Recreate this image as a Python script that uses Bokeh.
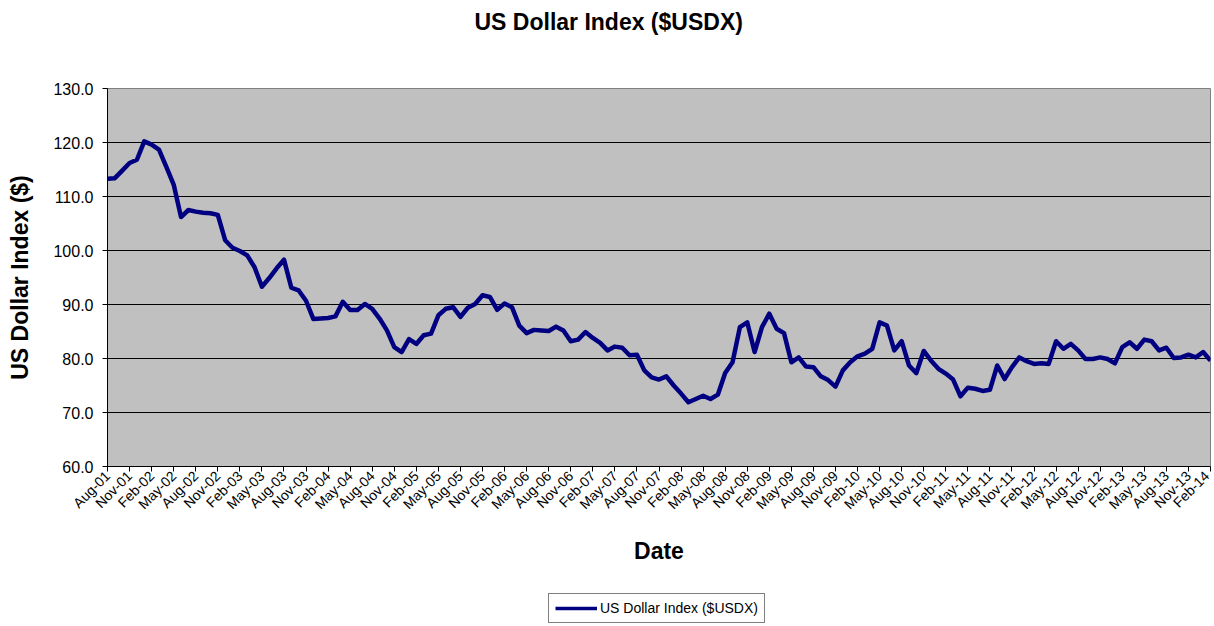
import math
from bokeh.plotting import figure
from bokeh.layouts import column
from bokeh.models import (ColumnDataSource, FixedTicker, NumeralTickFormatter,
                          Legend, LegendItem, Range1d, Title)
from bokeh.embed import file_html
from bokeh.resources import INLINE

# ---- data -------------------------------------------------------------
tick_labels = ["Aug-01", "Nov-01", "Feb-02", "May-02", "Aug-02", "Nov-02",
               "Feb-03", "May-03", "Aug-03", "Nov-03", "Feb-04", "May-04",
               "Aug-04", "Nov-04", "Feb-05", "May-05", "Aug-05", "Nov-05",
               "Feb-06", "May-06", "Aug-06", "Nov-06", "Feb-07", "May-07",
               "Aug-07", "Nov-07", "Feb-08", "May-08", "Aug-08", "Nov-08",
               "Feb-09", "May-09", "Aug-09", "Nov-09", "Feb-10", "May-10",
               "Aug-10", "Nov-10", "Feb-11", "May-11", "Aug-11", "Nov-11",
               "Feb-12", "May-12", "Aug-12", "Nov-12", "Feb-13", "May-13",
               "Aug-13", "Nov-13", "Feb-14"]

# monthly values, Aug-01 ... Feb-14
usdx = [
    113.3, 113.4, 114.8, 116.2, 116.8,                                  # 2001 Aug-Dec
    120.2, 119.6, 118.7, 115.5, 112.2, 106.2, 107.5, 107.2, 107.0, 106.9, 106.6, 101.9,  # 2002
    100.5, 99.9, 99.1, 96.9, 93.3, 94.9, 96.7, 98.3, 93.1, 92.6, 90.7, 87.3,             # 2003
    87.4, 87.5, 87.8, 90.5, 89.0, 89.0, 90.1, 89.2, 87.4, 85.2, 82.1, 81.2,              # 2004
    83.6, 82.7, 84.3, 84.6, 88.0, 89.2, 89.5, 87.7, 89.4, 90.1, 91.7, 91.4,              # 2005
    89.0, 90.2, 89.5, 86.1, 84.7, 85.3, 85.2, 85.1, 85.9, 85.2, 83.2, 83.5,              # 2006
    84.9, 83.8, 82.9, 81.5, 82.2, 82.0, 80.6, 80.7, 77.8, 76.5, 76.1, 76.7,              # 2007
    75.0, 73.5, 71.9, 72.5, 73.1, 72.5, 73.3, 77.3, 79.3, 85.8, 86.7, 81.2,              # 2008
    85.8, 88.3, 85.5, 84.7, 79.3, 80.2, 78.5, 78.4, 76.7, 76.0, 74.8, 77.8,              # 2009
    79.3, 80.4, 80.9, 81.8, 86.7, 86.1, 81.5, 83.2, 78.7, 77.3, 81.4, 79.6,              # 2010
    78.1, 77.2, 76.1, 73.0, 74.6, 74.4, 74.0, 74.2, 78.7, 76.2, 78.4, 80.2,              # 2011
    79.5, 79.0, 79.1, 79.0, 83.2, 81.8, 82.7, 81.5, 79.9, 79.9, 80.2, 79.9,              # 2012
    79.1, 82.1, 83.0, 81.8, 83.5, 83.2, 81.5, 82.0, 80.1, 80.2, 80.7, 80.2,              # 2013
    81.2, 79.6,                                                           # 2014 Jan-Feb
]
y_ticks = [60, 70, 80, 90, 100, 110, 120, 130]
series_name = "US Dollar Index ($USDX)"

# ---- figure -----------------------------------------------------------
FONT = "Liberation Sans"
LINE_COLOR = "#000080"
n = len(usdx)
months = list(range(n))
tick_pos = months[::3]

src = ColumnDataSource(data=dict(x=months, y=usdx))

p = figure(frame_width=1103, frame_height=378, output_backend="svg",
           toolbar_location=None, title_location=None,
           x_range=Range1d(0, n - 1), y_range=Range1d(60, 130),
           min_border_left=107, min_border_right=2, min_border_top=88,
           min_border_bottom=118)

p.background_fill_color = "#C0C0C0"
p.border_fill_color = "white"
p.outline_line_color = "#808080"

# title: a blank spacer next to the frame, the real title above it
spacer = Title(text=" ", text_font=FONT, text_font_size="10px", standoff=39)
p.add_layout(spacer, "above")
title = Title(text="US Dollar Index ($USDX)", align="left", vertical_align="top",
              offset=367, standoff=0, text_font=FONT, text_font_size="23px",
              text_font_style="bold", text_color="black")
p.add_layout(title, "above")

# x axis
xa = p.xaxis[0]
xa.ticker = FixedTicker(ticks=tick_pos)
xa.major_label_overrides = {pos: lab for pos, lab in zip(tick_pos, tick_labels)}
xa.major_label_orientation = math.pi / 4
xa.major_label_text_font = FONT
xa.major_label_text_font_size = "14px"
xa.major_label_text_color = "black"
xa.major_label_standoff = 2
xa.major_tick_in = 0
xa.major_tick_out = 5
xa.minor_tick_line_color = None
xa.axis_line_color = "black"
xa.major_tick_line_color = "black"
xa.axis_label = "Date"
xa.axis_label_text_font = FONT
xa.axis_label_text_font_size = "23px"
xa.axis_label_text_font_style = "bold"
xa.axis_label_text_color = "black"
xa.axis_label_standoff = 17

# y axis
ya = p.yaxis[0]
ya.ticker = FixedTicker(ticks=y_ticks)
ya.formatter = NumeralTickFormatter(format="0.0")
ya.major_label_text_font = FONT
ya.major_label_text_font_size = "16px"
ya.major_label_text_color = "black"
ya.major_label_standoff = 9
ya.major_tick_in = 0
ya.major_tick_out = 5
ya.minor_tick_line_color = None
ya.axis_line_color = "black"
ya.major_tick_line_color = "black"
ya.axis_label = "US Dollar Index ($)"
ya.axis_label_text_font = FONT
ya.axis_label_text_font_size = "23px"
ya.axis_label_text_font_style = "bold"
ya.axis_label_text_color = "black"
ya.axis_label_standoff = 17

# grid
p.xgrid.grid_line_color = None
p.ygrid.ticker = FixedTicker(ticks=y_ticks)
p.ygrid.grid_line_color = "black"
p.ygrid.grid_line_width = 1

# line
p.line("x", "y", source=src, line_color=LINE_COLOR, line_width=4.5,
       line_join="round")

# ---- legend strip below the chart ------------------------------------
# (the series is re-plotted out of this strip's view; only its key shows)
leg_fig = figure(width=1212, height=42, output_backend="svg",
                 toolbar_location=None, title_location=None,
                 x_axis_type=None, y_axis_type=None, min_border=0,
                 x_range=Range1d(0, 1), y_range=Range1d(0, 1))
leg_fig.outline_line_color = None
leg_fig.background_fill_color = "white"
leg_fig.border_fill_color = "white"
leg_fig.xgrid.visible = False
leg_fig.ygrid.visible = False
key = leg_fig.line("x", "y", source=src, line_color=LINE_COLOR, line_width=3.5)

legend = Legend(items=[LegendItem(label=series_name, renderers=[key])],
                location=(441, 3), orientation="horizontal",
                border_line_color="black", border_line_width=1,
                background_fill_color="white", background_fill_alpha=1,
                label_text_font=FONT, label_text_font_size="14px",
                label_text_color="black",
                glyph_width=42, glyph_height=16, label_standoff=3,
                padding=6, spacing=0, margin=0)
leg_fig.add_layout(legend, "center")

layout = column(p, leg_fig, spacing=0)
open("out.html", "w").write(file_html(layout, INLINE))
